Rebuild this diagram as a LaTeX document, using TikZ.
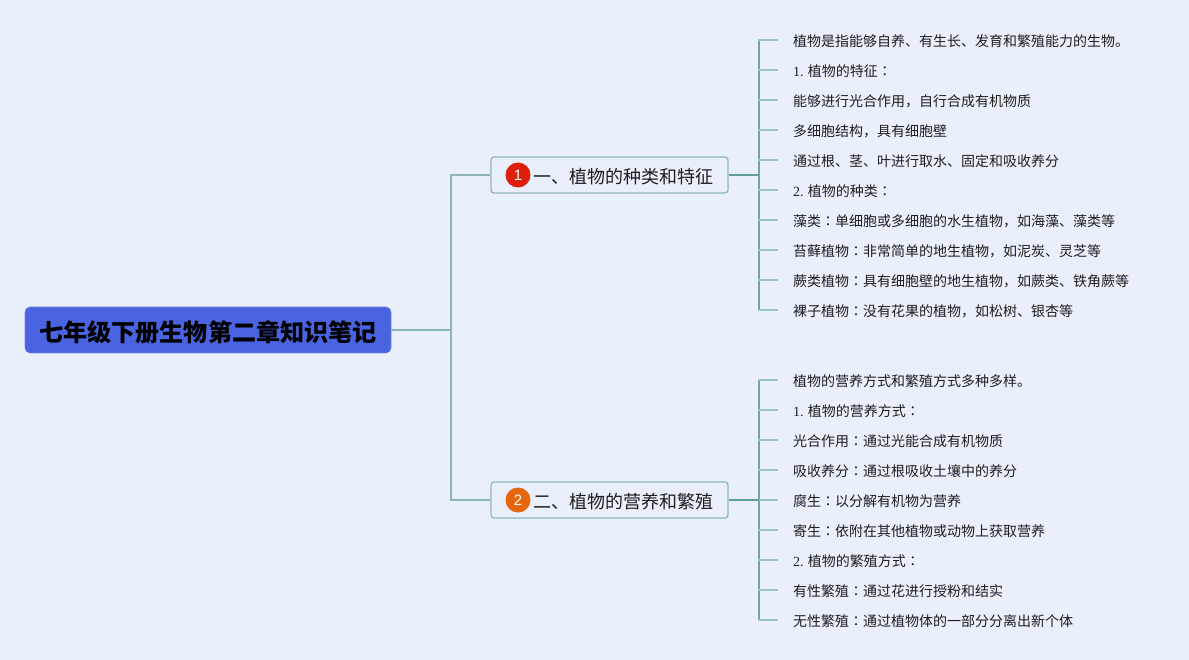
\documentclass[tikz,border=0pt]{standalone}
\usepackage{fontspec}
\setmainfont{Noto Sans CJK SC}
\newfontfamily\cjktc{Noto Sans CJK TC}
\newfontfamily\latinser{Liberation Serif}
\newfontfamily\latinsans{Liberation Sans}
\newcommand{\cl}{{\cjktc ：}}
\definecolor{bgc}{HTML}{EAEFFC}
\definecolor{rootc}{HTML}{4A63E0}
\definecolor{rootb}{HTML}{6F88DC}
\definecolor{topb}{HTML}{8FB8BC}
\definecolor{lnk}{HTML}{8DB4B8}
\definecolor{bus}{HTML}{6FA5A5}
\definecolor{dark}{HTML}{5F9E9C}
\definecolor{stub}{HTML}{9CC4C4}
\definecolor{txt}{HTML}{1E1E1E}
\definecolor{badgeone}{HTML}{DD1F0B}
\definecolor{badgetwo}{HTML}{E5660F}
\tikzset{
  rootnode/.style={draw=rootb,line width=0.6pt,fill=rootc,rounded corners=5pt,minimum width=366pt,minimum height=46pt,inner sep=0pt,text height=26pt,text depth=3pt,font=\bfseries\fontsize{24.1}{28}\selectfont,text=black},
  topicnode/.style={draw=topb,line width=1.3pt,fill=bgc,rounded corners=3pt,minimum width=237pt,minimum height=36pt,inner sep=0pt,text height=20pt,text depth=3pt,font=\fontsize{18}{22}\selectfont,text=txt},
  badge/.style={circle,minimum size=25pt,inner sep=0pt,text=white,font=\latinsans\fontsize{15}{18}\selectfont},
  leaf/.style={anchor=west,inner xsep=16pt,inner ysep=0pt,text height=15pt,text depth=2pt,font=\fontsize{14}{17}\selectfont,text=txt},
  rootlink/.style={draw=lnk,line width=1.5pt},
  toplink/.style={draw=dark,line width=1.6pt},
  buslink/.style={draw=bus,line width=1.5pt},
  stublink/.style={draw=stub,line width=1.3pt}
}
\begin{document}
\begin{tikzpicture}[x=1pt,y=-1pt]
\useasboundingbox (0,0) rectangle (1189,660);
\fill[bgc] (0,0) rectangle (1189,660);

\node[rootnode] (root) at (208,330) {七年级下册生物第二章知识笔记};
\node[topicnode] (t1) at (609.5,175) {\hspace*{27pt}一、植物的种类和特征};
\node[topicnode] (t2) at (609.5,500) {\hspace*{27pt}二、植物的营养和繁殖};
\node[badge,fill=badgeone] (b1) at (518,175) {1};
\node[badge,fill=badgetwo] (b2) at (518,500) {2};

\node[leaf] (a1) at (777,40) {植物是指能够自养、有生长、发育和繁殖能力的生物。};
\node[leaf] (a2) at (777,70) {{\latinser 1.} 植物的特征\cl};
\node[leaf] (a3) at (777,100) {能够进行光合作用，自行合成有机物质};
\node[leaf] (a4) at (777,130) {多细胞结构，具有细胞壁};
\node[leaf] (a5) at (777,160) {通过根、茎、叶进行取水、固定和吸收养分};
\node[leaf] (a6) at (777,190) {{\latinser 2.} 植物的种类\cl};
\node[leaf] (a7) at (777,220) {藻类\cl 单细胞或多细胞的水生植物，如海藻、藻类等};
\node[leaf] (a8) at (777,250) {苔藓植物\cl 非常简单的地生植物，如泥炭、灵芝等};
\node[leaf] (a9) at (777,280) {蕨类植物\cl 具有细胞壁的地生植物，如蕨类、铁角蕨等};
\node[leaf] (a10) at (777,310) {裸子植物\cl 没有花果的植物，如松树、银杏等};

\node[leaf] (c1) at (777,380) {植物的营养方式和繁殖方式多种多样。};
\node[leaf] (c2) at (777,410) {{\latinser 1.} 植物的营养方式\cl};
\node[leaf] (c3) at (777,440) {光合作用\cl 通过光能合成有机物质};
\node[leaf] (c4) at (777,470) {吸收养分\cl 通过根吸收土壤中的养分};
\node[leaf] (c5) at (777,500) {腐生\cl 以分解有机物为营养};
\node[leaf] (c6) at (777,530) {寄生\cl 依附在其他植物或动物上获取营养};
\node[leaf] (c7) at (777,560) {{\latinser 2.} 植物的繁殖方式\cl};
\node[leaf] (c8) at (777,590) {有性繁殖\cl 通过花进行授粉和结实};
\node[leaf] (c9) at (777,620) {无性繁殖\cl 通过植物体的一部分分离出新个体};

\coordinate (rj) at (451,330);
\coordinate (j1) at (759,175);
\coordinate (j2) at (759,500);

\draw[rootlink] (root.east) -- (rj);
\draw[rootlink] (rj) |- (t1.west);
\draw[rootlink] (rj) |- (t2.west);

\draw[buslink] (j1) -- (j1 |- a1.west);
\draw[buslink] (j1) -- (j1 |- a10.west);
\draw[buslink] (j2) -- (j2 |- c1.west);
\draw[buslink] (j2) -- (j2 |- c9.west);
\foreach \n in {a1,a2,a3,a4,a5,a6,a7,a8,a9,a10}{
  \draw[stublink,line cap=rect] (j1 |- \n.west) -- (\n.west);
}
\foreach \n in {c1,c2,c3,c4,c5,c6,c7,c8,c9}{
  \draw[stublink,line cap=rect] (j2 |- \n.west) -- (\n.west);
}
\draw[toplink] (t1.east) -- (j1);
\draw[toplink] (t2.east) -- (j2);
\end{tikzpicture}
\end{document}
